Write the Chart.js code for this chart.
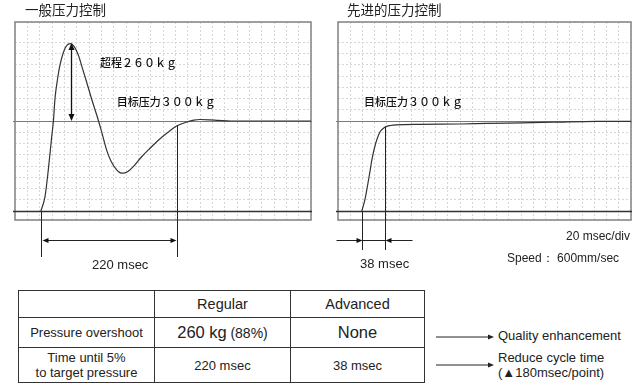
<!DOCTYPE html>
<html><head><meta charset="utf-8">
<script src="https://cdn.jsdelivr.net/npm/chart.js@4/dist/chart.umd.min.js"></script>
<style>
html,body{margin:0;padding:0;background:#fff;}
body{width:640px;height:388px;position:relative;overflow:hidden;font-family:"Liberation Sans",Arial,sans-serif;color:#222;}
.abs{position:absolute;white-space:nowrap;line-height:1;}
.cjk{font-family:"Noto Sans CJK SC",sans-serif;}
canvas{position:absolute;top:0;}
#c1{left:0;}
#c2{left:320px;}
table{position:absolute;left:18px;top:290px;border-collapse:collapse;table-layout:fixed;width:406px;}
td{border:1px solid #333;text-align:center;padding:0;color:#222;}
</style></head>
<body>
<canvas id="c1" width="320" height="290"></canvas>
<canvas id="c2" width="320" height="290"></canvas>

<div class="abs cjk" style="left:25px;top:3px;font-size:13.5px;">一般压力控制</div>
<div class="abs cjk" style="left:347px;top:3px;font-size:13.5px;">先进的压力控制</div>

<div class="abs" style="left:92px;top:258px;font-size:13px;">220 msec</div>
<div class="abs" style="left:360px;top:257px;font-size:13px;">38 msec</div>
<div class="abs" style="left:566px;top:230px;font-size:12px;">20 msec/div</div>
<div class="abs" style="left:507px;top:252px;font-size:12px;">Speed：&nbsp;600mm/sec</div>

<table id="tbl"></table>

<svg class="abs" style="left:430px;top:325px" width="70" height="50">
  <line x1="6" y1="12" x2="60" y2="12" stroke="#222" stroke-width="1"/>
  <polygon points="64,12 58,9.5 58,14.5" fill="#222"/>
  <line x1="6" y1="40" x2="60" y2="40" stroke="#222" stroke-width="1"/>
  <polygon points="64,40 58,37.5 58,42.5" fill="#222"/>
</svg>
<div class="abs" style="left:498px;top:329px;font-size:13px;">Quality enhancement</div>
<div class="abs" style="left:498px;top:351px;font-size:13px;">Reduce cycle time</div>
<div class="abs" style="left:498px;top:366px;font-size:13px;">(▲180msec/point)</div>

<script>
// ---- data ----
const regularTime = [42,48.6,54,59.5,62.4,64.9,69,73,81,90,96,102.7,109,116,124,132.5,140,148.6,156,164.9,170,175.6,181,191.8,205,219,232,246,262,276,290,300,315,330,350,400,480];
const regularKg   = [0,47,137,247,303,376,440,487,542,558,548,520,478,431,375,320,268,203,165,137,128,126,129,148,180,209,235,259,283,295,303,305,304,302,300,300,300];
const advancedTime = [39,44,48,52,55,58,61,64,69,74,78,86,96,134,200,244,300,352,424,480];
const advancedKg   = [0,37,80,127,165,195,220,240,264,275,281,285,287,289,290,292,294,296,299,299];
const targetKg = 300;
const overshootKg = 260;
const regularSettleMs = 220;
const advancedSettleMs = 38;
const timeTicksMs = {min:0, max:480, step:20};
const kgRange = {min:-30, max:630, step:37.5};

const tableHeader = ["", "Regular", "Advanced"];
const rowLabels = ["Pressure overshoot", "Time until 5%<br>to target pressure"];
const regularVals = ['<span style="font-size:16.5px">260 kg</span> <span style="font-size:14px">(88%)</span>', '220 msec'];
const advancedVals = ['<span style="font-size:16.5px">None</span>', '38 msec'];

// ---- table ----
(function(){
  const t = document.getElementById('tbl');
  let h = '<colgroup><col style="width:136px"><col style="width:136px"><col style="width:134px"></colgroup>';
  h += '<tr style="height:27px">' + tableHeader.map(s=>'<td style="font-size:14.5px">'+s+'</td>').join('') + '</tr>';
  const heights = [30,35];
  for (let i=0;i<rowLabels.length;i++){
    h += '<tr style="height:'+heights[i]+'px"><td style="font-size:13px;line-height:15px">'+rowLabels[i]+'</td><td style="font-size:13px">'+regularVals[i]+'</td><td style="font-size:13px">'+advancedVals[i]+'</td></tr>';
  }
  t.innerHTML = h;
})();

// ---- helpers ----
function arrowHead(ctx, x, y, dx, dy, len, half){
  ctx.beginPath();
  ctx.moveTo(x, y);
  ctx.lineTo(x - dx*len - dy*half, y - dy*len + dx*half);
  ctx.lineTo(x - dx*len + dy*half, y - dy*len - dx*half);
  ctx.closePath();
  ctx.fill();
}
function hline(ctx, x1, x2, y, color, w){
  ctx.save(); ctx.strokeStyle=color; ctx.lineWidth=w;
  ctx.beginPath(); ctx.moveTo(x1,y); ctx.lineTo(x2,y); ctx.stroke(); ctx.restore();
}
function vline(ctx, x, y1, y2, color, w){
  ctx.save(); ctx.strokeStyle=color; ctx.lineWidth=w;
  ctx.beginPath(); ctx.moveTo(x,y1); ctx.lineTo(x,y2); ctx.stroke(); ctx.restore();
}

function frameAndRefs(chart){
  const {ctx, chartArea:a, scales:{x,y}} = chart;
  ctx.save();
  ctx.strokeStyle = '#8a8a8a'; ctx.lineWidth = 1.6;
  ctx.strokeRect(a.left, a.top, a.right-a.left, a.bottom-a.top);
  ctx.restore();
  hline(ctx, a.left-2, a.right+1, Math.round(y.getPixelForValue(targetKg))+0.5, '#7a7a7a', 1);
  hline(ctx, a.left-2, a.right+1, Math.round(y.getPixelForValue(0))+0.5, '#333', 1.3);
}

function makeOptions(){
  return {
    responsive:false, animation:false, devicePixelRatio:1,
    layout:{padding:{left:0,top:22,right:9,bottom:70}},
    plugins:{legend:{display:false}, tooltip:{enabled:false}, title:{display:false}},
    scales:{
      x:{type:'linear', min:timeTicksMs.min, max:timeTicksMs.max,
         ticks:{display:false, stepSize:timeTicksMs.step},
         grid:{color:'#d6d6d6', lineWidth:1, drawTicks:false},
         border:{display:false, dash:[2,2]}},
      y:{type:'linear', min:kgRange.min, max:kgRange.max,
         ticks:{display:false, stepSize:kgRange.step},
         grid:{color:'#d6d6d6', lineWidth:1, drawTicks:false},
         border:{display:false, dash:[2,2]}}
    }
  };
}

// ---- left chart ----
const leftStart = regularTime[0];
const peakIdx = regularKg.indexOf(Math.max(...regularKg));
const opt1 = makeOptions();
opt1.layout.padding.left = 15;
new Chart(document.getElementById('c1'), {
  type:'line',
  data:{datasets:[{data: regularTime.map((t,i)=>({x:t, y:regularKg[i]})),
    borderColor:'#333', borderWidth:1.2, pointRadius:0, fill:false,
    cubicInterpolationMode:'monotone'}]},
  options:opt1,
  plugins:[{
    id:'annLeft',
    beforeDatasetsDraw(chart){ frameAndRefs(chart); },
    afterDatasetsDraw(chart){
      const {ctx, chartArea:a, scales:{x,y}} = chart;
      ctx.save();
      ctx.fillStyle = '#111'; ctx.strokeStyle='#111';
      const px = Math.round(x.getPixelForValue(regularTime[peakIdx]))+0.5;
      const yTop = y.getPixelForValue(targetKg+overshootKg);
      const yBot = y.getPixelForValue(targetKg);
      vline(ctx, px, yTop+5, yBot-5, '#111', 1.3);
      arrowHead(ctx, px, yTop, 0, -1, 7, 3);
      arrowHead(ctx, px, yBot, 0, 1, 7, 3);
      const x1 = Math.round(x.getPixelForValue(leftStart))+0.5;
      const x2 = Math.round(x.getPixelForValue(leftStart+regularSettleMs))+0.5;
      const yEnd = a.bottom + 37;
      vline(ctx, x1, y.getPixelForValue(0), yEnd, '#222', 1);
      vline(ctx, x2, y.getPixelForValue(targetKg*0.95), yEnd, '#222', 1);
      const ay = a.bottom + 20.5;
      hline(ctx, x1+5, x2-5, ay, '#222', 1);
      arrowHead(ctx, x1+1, ay, -1, 0, 6, 2.5);
      arrowHead(ctx, x2-1, ay, 1, 0, 6, 2.5);
      ctx.fillStyle = '#111';
      ctx.font = '500 11px "Noto Sans CJK SC"';
      ctx.textBaseline = 'middle';
      ctx.fillText('超程２６０ｋｇ', x.getPixelForValue(138), y.getPixelForValue(493));
      ctx.fillText('目标压力３００ｋｇ', x.getPixelForValue(165), y.getPixelForValue(363));
      ctx.restore();
    }
  }]
});

// ---- right chart ----
const rightStart = advancedTime[0];
const opt2 = makeOptions();
opt2.layout.padding.left = 18;
new Chart(document.getElementById('c2'), {
  type:'line',
  data:{datasets:[{data: advancedTime.map((t,i)=>({x:t, y:advancedKg[i]})),
    borderColor:'#333', borderWidth:1.2, pointRadius:0, fill:false,
    cubicInterpolationMode:'monotone'}]},
  options:opt2,
  plugins:[{
    id:'annRight',
    beforeDatasetsDraw(chart){ frameAndRefs(chart); },
    afterDatasetsDraw(chart){
      const {ctx, chartArea:a, scales:{x,y}} = chart;
      ctx.save();
      ctx.fillStyle = '#111';
      const x1 = Math.round(x.getPixelForValue(rightStart))+0.5;
      const x2 = Math.round(x.getPixelForValue(rightStart+advancedSettleMs))+0.5;
      const yEnd = a.bottom + 30;
      vline(ctx, x1, y.getPixelForValue(0), yEnd, '#222', 1);
      vline(ctx, x2, y.getPixelForValue(281), yEnd, '#222', 1);
      const ay = a.bottom + 20.5;
      hline(ctx, x1-26, x1-4, ay, '#222', 1);
      arrowHead(ctx, x1, ay, 1, 0, 6, 2.5);
      hline(ctx, x1, x2, ay, '#222', 1);
      hline(ctx, x2+4, x2+27, ay, '#222', 1);
      arrowHead(ctx, x2, ay, -1, 0, 6, 2.5);
      ctx.font = '500 11px "Noto Sans CJK SC"';
      ctx.textBaseline = 'middle';
      ctx.fillText('目标压力３００ｋｇ', x.getPixelForValue(42.6), y.getPixelForValue(363));
      ctx.restore();
    }
  }]
});
</script>
</body></html>
